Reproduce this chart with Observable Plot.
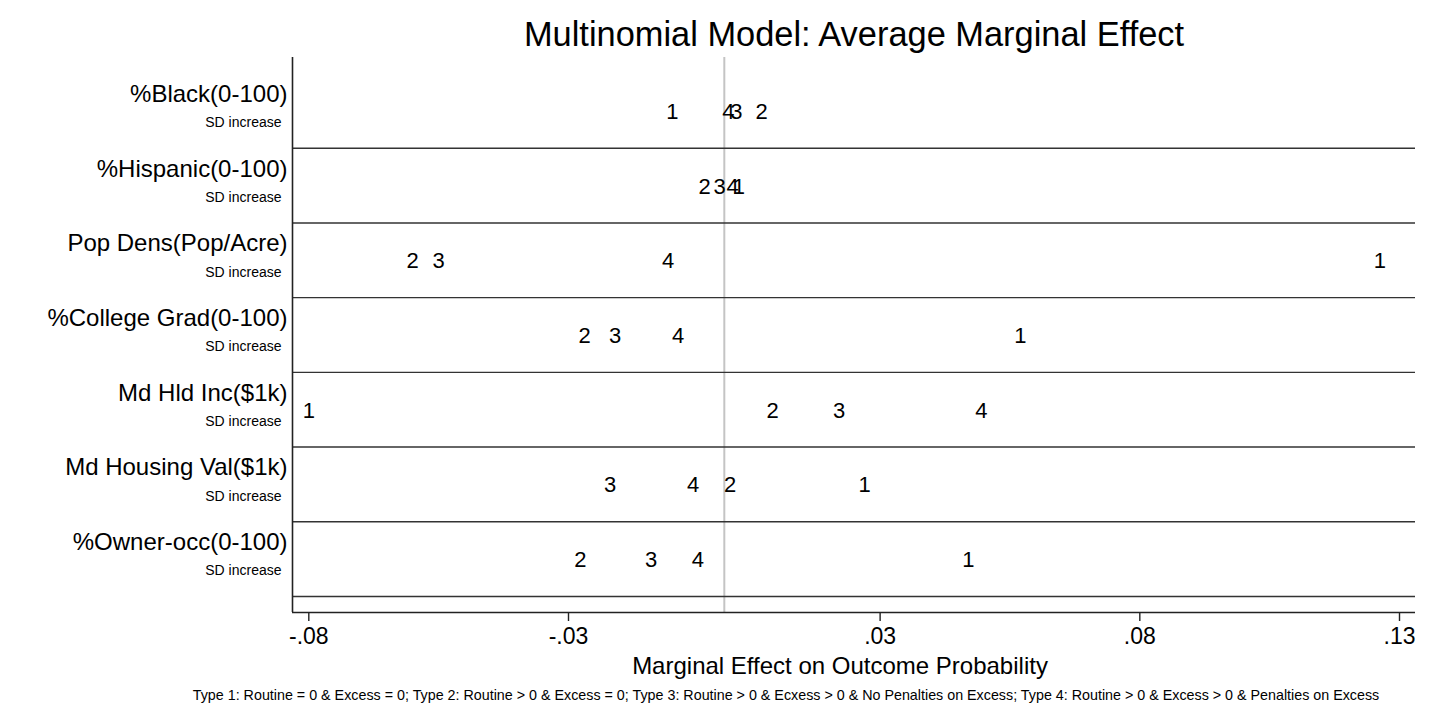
<!DOCTYPE html>
<html>
<head>
<meta charset="utf-8">
<script src="https://cdn.jsdelivr.net/npm/d3@7"></script>
<script src="https://cdn.jsdelivr.net/npm/@observablehq/plot@0.6"></script>
<style>
  html, body { margin: 0; padding: 0; background: #fff; }
  svg { display: block; }
</style>
</head>
<body>
<div id="chart"></div>
<script>
// ---- data ----
const categories = [
  "%Black(0-100)",
  "%Hispanic(0-100)",
  "Pop Dens(Pop/Acre)",
  "%College Grad(0-100)",
  "Md Hld Inc($1k)",
  "Md Housing Val($1k)",
  "%Owner-occ(0-100)"
];
const subLabel = "SD increase";
const types = ["1", "2", "3", "4"];
const type1 = [-0.0100, 0.0028, 0.1262, 0.0570, -0.0800, 0.0270, 0.0470];
const type2 = [0.0072, -0.0038, -0.0600, -0.0269, 0.0093, 0.0011, -0.0277];
const type3 = [0.0023, -0.0009, -0.0550, -0.0210, 0.0221, -0.0220, -0.0141];
const type4 = [0.0008, 0.0016, -0.0108, -0.0089, 0.0495, -0.0060, -0.0051];
const xTicks = [-0.08, -0.03, 0.03, 0.08, 0.13];
const xDomain = [-0.08314, 0.13308];
const yDomain = [-0.715, 6.715];
const titleText = "Multinomial Model: Average Marginal Effect";
const xLabelText = "Marginal Effect on Outcome Probability";
const captionText = "Type 1: Routine = 0 & Excess = 0; Type 2: Routine > 0 & Excess = 0; Type 3: Routine > 0 & Ecxess > 0 & No Penalties on Excess; Type 4: Routine > 0 & Excess > 0 & Penalties on Excess";

// ---- tables built from the arrays ----
const series = [type1, type2, type3, type4];
const points = categories.flatMap((c, i) =>
  types.map((t, j) => ({row: i, type: t, value: series[j][i]}))
);
const rowLabels = categories.map((c, i) => ({row: i, name: c, sub: subLabel}));
const separators = categories.map((c, i) => i + 0.5);

const font = "'Liberation Sans', Arial, Helvetica, sans-serif";
const fmt = d => d.toFixed(2).replace("0.", ".");

const chart = Plot.plot({
  width: 1433,
  height: 712,
  marginLeft: 292,
  marginRight: 18,
  marginTop: 57,
  marginBottom: 100,
  style: {fontFamily: font, background: "#fff", color: "#000"},
  x: {domain: xDomain, axis: null},
  y: {domain: yDomain, reverse: true, axis: null},
  marks: [
    Plot.ruleX([0], {stroke: "#c4c4c4", strokeWidth: 2}),
    Plot.ruleY(separators, {stroke: "#333", strokeWidth: 1.4}),
    Plot.ruleX([xDomain[0]], {stroke: "#222", strokeWidth: 1.6}),
    Plot.ruleY([yDomain[1]], {stroke: "#222", strokeWidth: 1.6}),
    Plot.axisX(xTicks, {
      anchor: "bottom", tickSize: 9, tickPadding: 6, fontSize: 23,
      tickFormat: fmt, label: null, stroke: "#222", strokeWidth: 1.4, fill: "#000"
    }),
    Plot.text(points, {
      x: "value", y: "row", text: "type", fontSize: 22,
      lineAnchor: "middle", fill: "#000", dy: 1
    }),
    Plot.text(rowLabels, {
      y: "row", text: "name", frameAnchor: "left", textAnchor: "end",
      lineAnchor: "bottom", dx: -5, dy: -9, fontSize: 24, fill: "#000"
    }),
    Plot.text(rowLabels, {
      y: "row", text: "sub", frameAnchor: "left", textAnchor: "end",
      lineAnchor: "bottom", dx: -11, dy: 16.4, fontSize: 14, fill: "#000"
    }),
    Plot.text([titleText], {
      frameAnchor: "top", lineAnchor: "bottom", dy: -11.5, fontSize: 34.4, fill: "#000"
    }),
    Plot.text([xLabelText], {
      frameAnchor: "bottom", lineAnchor: "bottom", dx: -14, dy: 61, fontSize: 24, fill: "#000"
    }),
    Plot.text([captionText], {
      frameAnchor: "bottom", lineAnchor: "bottom", dx: -68, dy: 87, fontSize: 14.3, fill: "#000"
    })
  ]
});
document.getElementById("chart").appendChild(chart);
</script>
</body>
</html>
